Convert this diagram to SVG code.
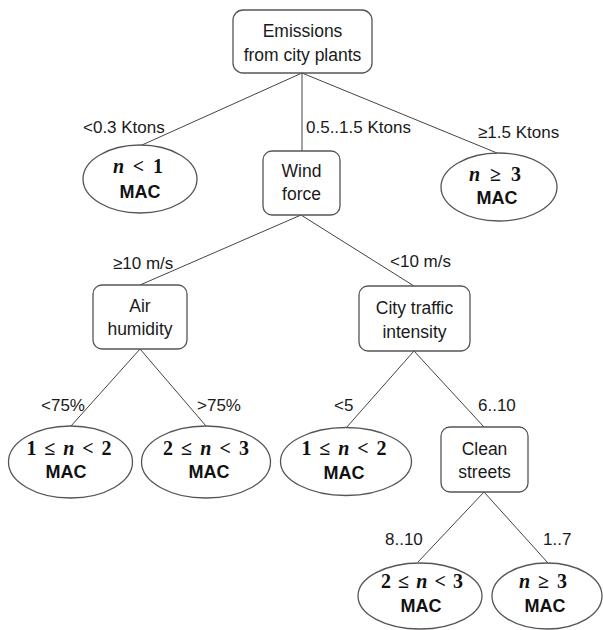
<svg xmlns="http://www.w3.org/2000/svg" width="603" height="630" viewBox="0 0 603 630">
<style>
.box{fill:#ffffff;stroke:#555555;stroke-width:1.3}
.ell{fill:#ffffff;stroke:#555555;stroke-width:1.3}
.edge{stroke:#444444;stroke-width:1;fill:none}
.t{font-family:"Liberation Sans",Arial,sans-serif;font-size:17.5px;fill:#1a1a1a;text-anchor:middle}
.lbl{font-family:"Liberation Sans",Arial,sans-serif;font-size:17px;fill:#1a1a1a}
.m{font-family:"Liberation Serif","DejaVu Serif",serif;font-size:20px;font-weight:bold;fill:#111111;text-anchor:middle}
.m .n{font-style:italic}
.mac{font-family:"Liberation Sans",Arial,sans-serif;font-size:18px;font-weight:bold;fill:#111111;text-anchor:middle}
</style>
<rect width="603" height="630" fill="#ffffff"/>
<g id="connectors">
<line class="edge" x1="302" y1="73" x2="142" y2="145"/>
<line class="edge" x1="302" y1="73" x2="302" y2="151"/>
<line class="edge" x1="302" y1="73" x2="497" y2="153"/>
<line class="edge" x1="301" y1="215" x2="140" y2="285"/>
<line class="edge" x1="301" y1="215" x2="414" y2="286"/>
<line class="edge" x1="140" y1="349" x2="71" y2="426"/>
<line class="edge" x1="140" y1="349" x2="206" y2="426"/>
<line class="edge" x1="414" y1="351" x2="346" y2="428"/>
<line class="edge" x1="414" y1="351" x2="484" y2="427"/>
<line class="edge" x1="484" y1="492" x2="418" y2="562"/>
<line class="edge" x1="484" y1="492" x2="548" y2="563"/>
</g>
<g id="edge-labels">
<text class="lbl" x="83" y="133">&lt;0.3 Ktons</text>
<text class="lbl" x="306" y="133">0.5..1.5 Ktons</text>
<text class="lbl" x="478" y="138">≥1.5 Ktons</text>
<text class="lbl" x="113" y="269">≥10 m/s</text>
<text class="lbl" x="390" y="267">&lt;10 m/s</text>
<text class="lbl" x="41" y="411">&lt;75%</text>
<text class="lbl" x="197" y="411">&gt;75%</text>
<text class="lbl" x="334" y="411">&lt;5</text>
<text class="lbl" x="478" y="411">6..10</text>
<text class="lbl" x="385" y="545">8..10</text>
<text class="lbl" x="543" y="545">1..7</text>
</g>
<g id="root">
<rect class="box" x="233" y="10" width="139" height="63" rx="10"/>
<text class="t" x="302.5" y="37">Emissions</text>
<text class="t" x="302.5" y="61">from city plants</text>
</g>
<g id="wind">
<rect class="box" x="263" y="151" width="77" height="64" rx="9"/>
<text class="t" x="301.5" y="177">Wind</text>
<text class="t" x="301.5" y="200">force</text>
</g>
<g id="air">
<rect class="box" x="93" y="285" width="94" height="64" rx="9"/>
<text class="t" x="140" y="312">Air</text>
<text class="t" x="140" y="335">humidity</text>
</g>
<g id="traffic">
<rect class="box" x="359" y="286" width="111" height="65" rx="9"/>
<text class="t" x="414.5" y="314">City traffic</text>
<text class="t" x="414.5" y="338">intensity</text>
</g>
<g id="clean">
<rect class="box" x="441" y="427" width="87" height="65" rx="9"/>
<text class="t" x="484.5" y="455">Clean</text>
<text class="t" x="484.5" y="478">streets</text>
</g>
<g id="leaf1">
<ellipse class="ell" cx="140" cy="179" rx="57" ry="34"/>
<text class="m" x="138" y="173" textLength="50" lengthAdjust="spacing"><tspan class="n">n</tspan> &lt; 1</text>
<text class="mac" x="140" y="198">MAC</text>
</g>
<g id="leaf2">
<ellipse class="ell" cx="499" cy="187" rx="58" ry="34"/>
<text class="m" x="495" y="181" textLength="52" lengthAdjust="spacing"><tspan class="n">n</tspan> ≥ 3</text>
<text class="mac" x="497" y="204">MAC</text>
</g>
<g id="leaf3">
<ellipse class="ell" cx="70.5" cy="462" rx="62" ry="36"/>
<text class="m" x="69" y="455" textLength="85" lengthAdjust="spacing">1 ≤ <tspan class="n">n</tspan> &lt; 2</text>
<text class="mac" x="66" y="478">MAC</text>
</g>
<g id="leaf4">
<ellipse class="ell" cx="206" cy="462" rx="64.5" ry="36"/>
<text class="m" x="206" y="455" textLength="86" lengthAdjust="spacing">2 ≤ <tspan class="n">n</tspan> &lt; 3</text>
<text class="mac" x="209" y="478">MAC</text>
</g>
<g id="leaf5">
<ellipse class="ell" cx="346" cy="461.5" rx="65.5" ry="34"/>
<text class="m" x="344" y="455" textLength="85" lengthAdjust="spacing">1 ≤ <tspan class="n">n</tspan> &lt; 2</text>
<text class="mac" x="344" y="479">MAC</text>
</g>
<g id="leaf6">
<ellipse class="ell" cx="420" cy="596" rx="62" ry="33"/>
<text class="m" x="422" y="588" textLength="82" lengthAdjust="spacing">2 ≤ <tspan class="n">n</tspan> &lt; 3</text>
<text class="mac" x="421" y="612">MAC</text>
</g>
<g id="leaf7">
<ellipse class="ell" cx="547" cy="596" rx="55" ry="33"/>
<text class="m" x="543" y="588" textLength="48" lengthAdjust="spacing"><tspan class="n">n</tspan> ≥ 3</text>
<text class="mac" x="545" y="612">MAC</text>
</g>
</svg>
